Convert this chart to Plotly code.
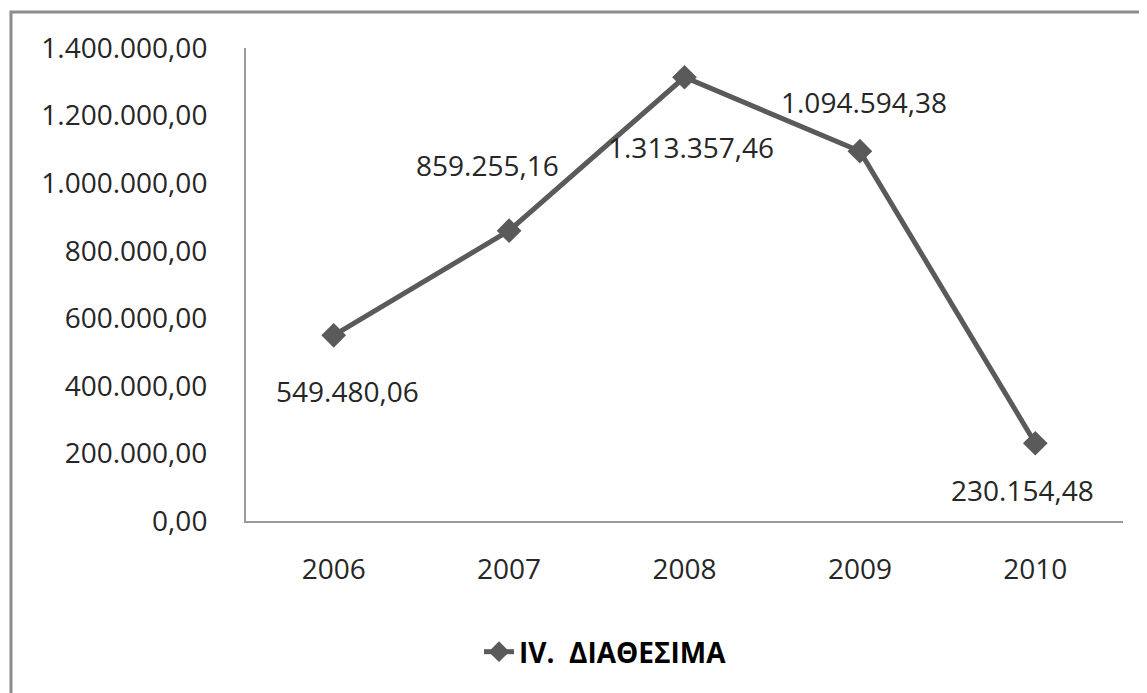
import plotly.graph_objects as go

years = ["2006", "2007", "2008", "2009", "2010"]
values = [549480.06, 859255.16, 1313357.46, 1094594.38, 230154.48]
series_name = "IV.\u00a0\u00a0ΔΙΑΘΕΣΙΜΑ"
y_ticks = [0, 200000, 400000, 600000, 800000, 1000000, 1200000, 1400000]

# label offsets (px) relative to each point
label_dx = [14, -22, 6, 4, -13]
label_dy = [-56, 66, -70, 49, -47]

def fmt(v):
    s = f"{v:,.2f}"
    return s.replace(",", "#").replace(".", ",").replace("#", ".")

FONT = "Open Sans"
TXT = "#262626"
LINE = "#5a5a5a"
AX = "#9a9a9a"

fig = go.Figure()
fig.add_trace(go.Scatter(
    x=years, y=values, mode="lines+markers", name="<b>" + series_name + "</b>",
    line=dict(color=LINE, width=5),
    marker=dict(symbol="diamond", size=19, color=LINE),
))

for i, (v, dx, dy) in enumerate(zip(values, label_dx, label_dy)):
    fig.add_annotation(x=i, y=v, text=fmt(v), showarrow=False,
                       xshift=dx, yshift=dy,
                       font=dict(family=FONT, size=28, color=TXT))

# page body has an 8px margin; compensate
OFF = 8
W, H = 1147 - OFF, 693 - OFF
L, R, T, B = 246 - OFF, 24, 48 - OFF, 172
pw, ph = W - L - R, H - T - B
fig.add_shape(type="rect", xref="paper", yref="paper",
              x0=(11 - OFF - L) / pw, x1=1 + 60 / pw,
              y0=-(B + 60) / ph, y1=1 + (T - (12 - OFF)) / ph,
              line=dict(color="#8c8c8c", width=3), layer="below")

fig.update_layout(
    width=W, height=H,
    margin=dict(l=L, r=R, t=T, b=B),
    paper_bgcolor="white", plot_bgcolor="white",
    separators=",.",
    font=dict(family=FONT, size=28, color=TXT),
    showlegend=True,
    legend=dict(orientation="h", x=(479 - 246) / pw, xanchor="left",
                y=-(652 - 521) / ph, yanchor="middle",
                font=dict(family=FONT, size=28, color="#000000"),
                bgcolor="rgba(0,0,0,0)"),
    xaxis=dict(type="category", range=[-0.5, 4.5], showgrid=False,
               showline=True, linecolor=AX, linewidth=2, ticks="",
               ticklabelstandoff=22, zeroline=False,
               tickfont=dict(family=FONT, size=28, color=TXT)),
    yaxis=dict(range=[0, 1400000], tickvals=y_ticks, tickformat=",.2f",
               showgrid=False, showline=True, linecolor=AX, linewidth=2,
               ticks="", ticklabelstandoff=31, zeroline=False,
               tickfont=dict(family=FONT, size=28, color=TXT)),
)

fig.write_html("out.html")
